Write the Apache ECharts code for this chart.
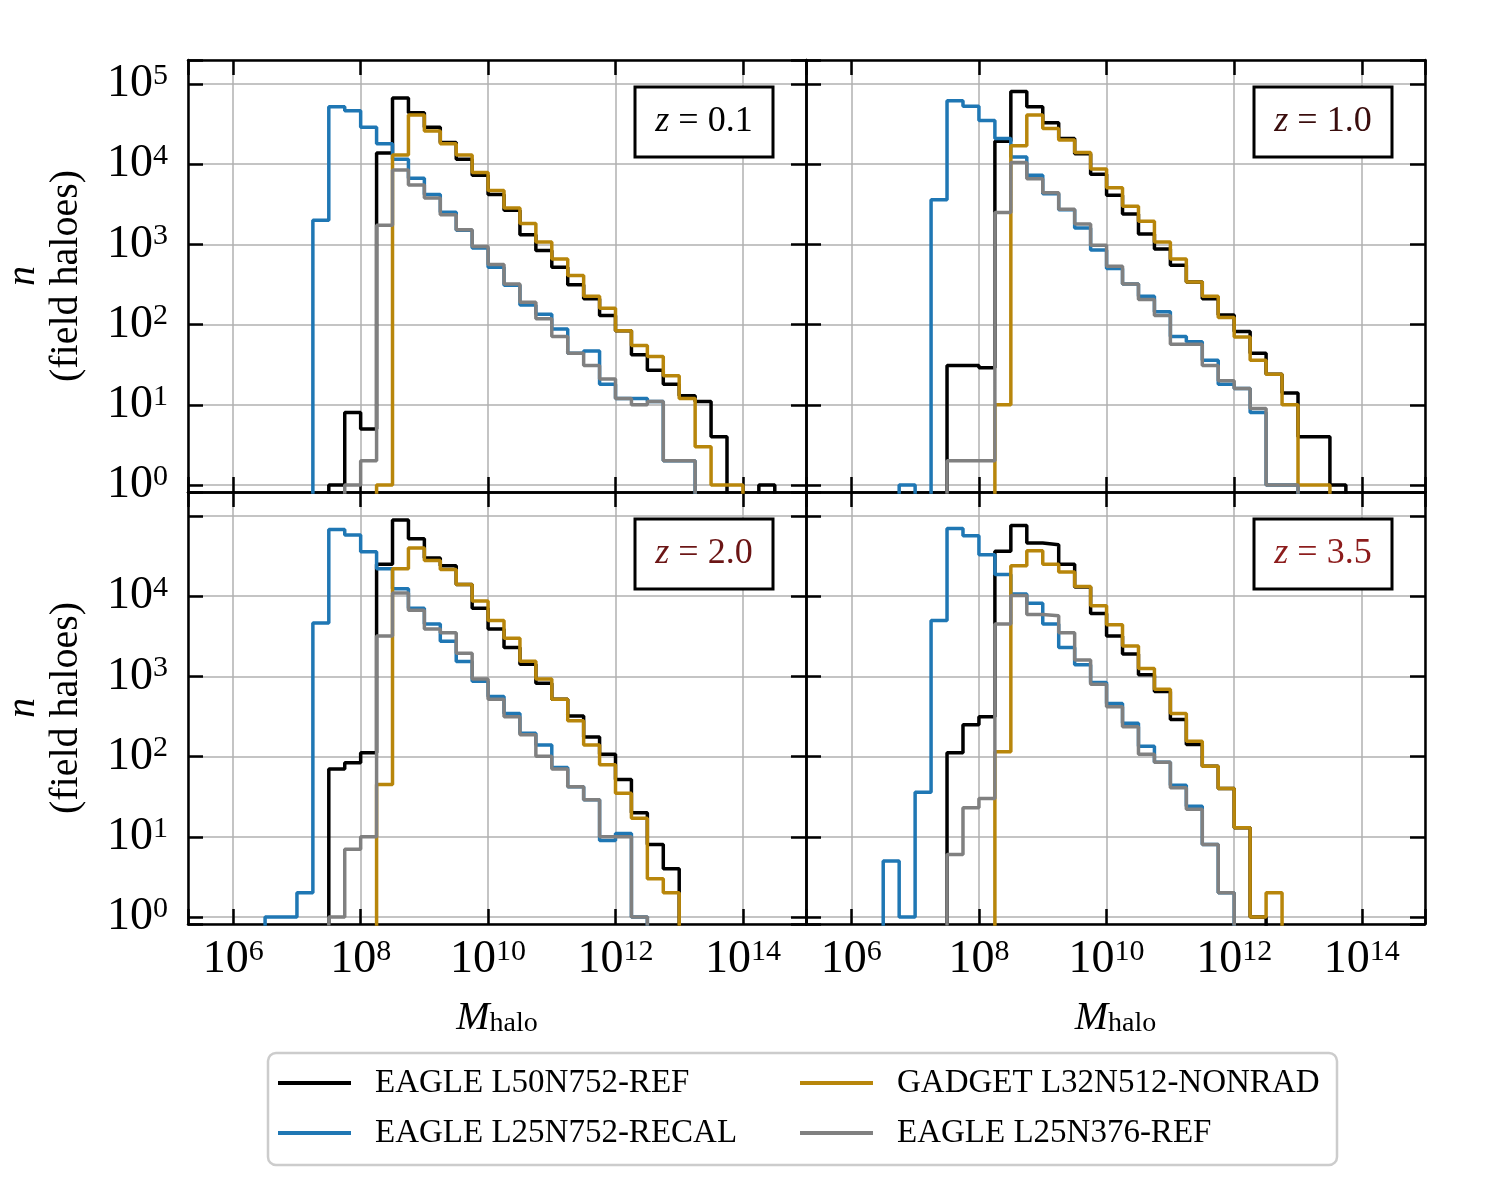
<!DOCTYPE html>
<html>
<head>
<meta charset="utf-8">
<script src="https://cdn.jsdelivr.net/npm/echarts@6/dist/echarts.min.js"></script>
<style>
html, body { margin: 0; padding: 0; background: #fff; }
#main { width: 1500px; height: 1200px; }
</style>
</head>
<body>
<div id="main"></div>
<script>
var myChart = echarts.init(document.getElementById('main'));

// simulations (legend order) and redshift labels
var simNames = ['EAGLE L50N752-REF', 'EAGLE L25N752-RECAL', 'GADGET L32N512-NONRAD', 'EAGLE L25N376-REF'];
var simColors = ['#000000', '#1f77b4', '#b8860b', '#808080'];
var redshiftLabels = ['0.1', '1.0', '2.0', '3.5'];
var redshiftColors = ['#000000', '#3a0d0d', '#6b1515', '#8c1c1c'];

// log10(M_halo) bin edges, 0.25 dex bins
var logMassEdges = [6.00, 6.25, 6.50, 6.75, 7.00, 7.25, 7.50, 7.75, 8.00, 8.25, 8.50, 8.75,
    9.00, 9.25, 9.50, 9.75, 10.00, 10.25, 10.50, 10.75, 11.00, 11.25, 11.50, 11.75,
    12.00, 12.25, 12.50, 12.75, 13.00, 13.25, 13.50, 13.75, 14.00, 14.25, 14.50];

// number of field haloes per bin
// z = 0.1
var ref50_z01  = [0,0,0,0,0,0,1,8,5,13800,67000,44000,29000,18700,11500,7300,4200,2660,1320,840,520,315,210,130,84,42,27,18,13,11,4,0,0,1];
var recal_z01  = [0,0,0,0,0,2000,52000,46500,29000,18000,11500,6700,4200,2520,1500,900,520,310,175,135,88,44,47,18,12,12,11,2,2,0,0,0,0,0];
var nonrad_z01 = [0,0,0,0,0,0,0,0,0,1,13000,41000,26000,18000,13000,7900,4700,2840,1820,1070,660,410,225,160,84,55,40,23,12,3,1,1,0,0];
var ref25_z01  = [0,0,0,0,0,0,0,1,2,1730,8500,5500,3800,2350,1520,945,560,320,190,118,71,44,31,21,12,10,11,2,2,0,0,0,0,0];
// z = 1.0
var ref50_z10  = [0,0,0,0,0,0,31,31,29,19400,81000,52000,33000,21000,13500,7500,4100,2400,1350,880,550,340,210,132,82,44,24,14,4,4,1,0,0,0];
var recal_z10  = [0,0,0,1,0,3600,62000,53000,35000,21000,12300,7300,4300,2700,1600,850,500,320,225,145,71,61,36,18,16,8,1,1,0,0,0,0,0,0];
var nonrad_z10 = [0,0,0,0,0,0,0,0,0,10,17000,41000,28000,20000,14000,8700,5100,3000,1950,1070,660,340,225,123,70,36,24,10,1,1,0,0,0,0];
var ref25_z10  = [0,0,0,0,0,0,2,2,2,2500,10500,6600,4400,2750,1800,980,535,320,205,130,57,57,31,20,16,9,1,1,0,0,0,0,0,0];
// z = 2.0
var ref50_z20  = [0,0,0,0,0,0,70,84,112,25000,89000,52000,30000,24000,14000,7100,3900,2300,1420,820,520,320,175,107,52,20,8,4,0,0,0,0,0,0];
var recal_z20  = [0,0,1,1,2,4650,68000,58000,36000,22000,12400,7100,4500,2750,1540,870,560,345,195,140,73,42,29,9,11,1,0,0,0,0,0,0,0,0];
var nonrad_z20 = [0,0,0,0,0,0,0,0,0,45,22000,40000,28000,21500,14000,8700,5000,3000,1550,930,520,280,140,79,35,17,3,2,0,0,0,0,0,0];
var ref25_z20  = [0,0,0,0,0,0,1,7,10,3200,11000,6700,3900,3500,1950,930,520,315,187,101,70,42,29,10,10,1,0,0,0,0,0,0,0,0];
// z = 3.5
var ref50_z35  = [0,0,0,0,0,0,112,250,315,36500,76000,46000,44000,25000,13000,6100,3200,1900,1050,650,290,142,76,40,13,1,0,0,0,0,0,0,0,0];
var recal_z35  = [0,0,5,1,36,5000,70000,57000,33000,18700,10700,8200,4500,2300,1400,840,460,260,135,85,44,24,8,2,0,0,0,0,0,0,0,0,0,0];
var nonrad_z35 = [0,0,0,0,0,0,0,0,0,115,24000,37000,25000,20000,13200,7600,4400,2400,1260,690,345,155,76,40,13,1,2,0,0,0,0,0,0,0];
var ref25_z35  = [0,0,0,0,0,0,6,23,30,4500,10200,5900,5700,3500,1600,800,420,235,107,85,41,22,8,2,0,0,0,0,0,0,0,0,0,0];

var panelCounts = [
    [ref50_z01, recal_z01, nonrad_z01, ref25_z01],
    [ref50_z10, recal_z10, nonrad_z10, ref25_z10],
    [ref50_z20, recal_z20, nonrad_z20, ref25_z20],
    [ref50_z35, recal_z35, nonrad_z35, ref25_z35]
];

var FONT = 'Liberation Serif';
var panels = [
    { left: 188, top: 60, width: 618, height: 432 },
    { left: 806, top: 60, width: 619, height: 432 },
    { left: 188, top: 492, width: 618, height: 432 },
    { left: 806, top: 492, width: 619, height: 432 }
];

// histogram outline in log space; empty bins go below the axis and are clipped
function stepData(counts) {
    var below = -3;
    var pts = [];
    for (var i = 0; i < counts.length; i++) {
        pts.push([logMassEdges[i], counts[i] > 0 ? Math.log10(counts[i]) : below]);
    }
    var last = counts[counts.length - 1];
    pts.push([logMassEdges[counts.length], last > 0 ? Math.log10(last) : below]);
    pts.push([logMassEdges[counts.length], below]);
    return pts;
}

function powLabel(v, hide) {
    if (Math.abs(v - Math.round(v)) > 1e-6) return '';
    var n = Math.round(v);
    if (hide && hide.indexOf(n) >= 0) return '';
    return '{b|10}{s|' + n + '}';
}
var powRich = {
    b: { fontSize: 46, fontFamily: FONT, color: '#000' },
    s: { fontSize: 30, fontFamily: FONT, color: '#000', verticalAlign: 'top' }
};

var grids = [], xAxes = [], yAxes = [], series = [], graphics = [];
var frameLine = { show: true, onZero: false, lineStyle: { color: '#000', width: 2.5 } };
var inTick = { show: true, inside: true, length: 15, lineStyle: { color: '#000', width: 2.5 } };
var gridLine = { show: true, lineStyle: { color: '#b0b0b0', width: 1.5 } };

panels.forEach(function (g, p) {
    var isBottom = p >= 2, isLeft = p % 2 === 0;
    grids.push({ left: g.left, top: g.top, width: g.width, height: g.height,
        show: false, containLabel: false, outerBoundsMode: 'none' });

    xAxes.push({
        gridIndex: p, type: 'value', position: 'bottom', min: 5.29, max: 14.99,
        axisLine: frameLine, axisTick: inTick, splitLine: gridLine,
        axisLabel: { show: isBottom, margin: 13, formatter: function (v) { return powLabel(v); }, rich: powRich },
        name: isBottom ? '{i|M}{u|halo}' : '', nameLocation: 'middle', nameGap: 74, nameMoveOverlap: false,
        nameTextStyle: { fontFamily: FONT, fontSize: 40, color: '#000',
            rich: { i: { fontFamily: FONT, fontSize: 40, fontStyle: 'italic', color: '#000' },
                    u: { fontFamily: FONT, fontSize: 28, color: '#000', verticalAlign: 'bottom' } } }
    });
    xAxes.push({
        gridIndex: p, type: 'value', position: 'top', min: 5.29, max: 14.99,
        axisLine: frameLine, axisTick: inTick, splitLine: { show: false }, axisLabel: { show: false }
    });

    yAxes.push({
        gridIndex: p, type: 'value', position: 'left', min: -0.0875, max: 5.3,
        axisLine: frameLine, axisTick: inTick, splitLine: gridLine,
        axisLabel: { show: isLeft, margin: 20, rich: powRich,
            formatter: function (v) { return powLabel(v, isBottom ? [5] : []); } },
        name: isLeft ? '{i|n}\n(field haloes)' : '', nameLocation: 'middle', nameGap: 100, nameRotate: 90,
        nameMoveOverlap: false,
        nameTextStyle: { fontFamily: FONT, fontSize: 40, lineHeight: 43, color: '#000',
            rich: { i: { fontFamily: FONT, fontSize: 40, lineHeight: 43, fontStyle: 'italic', color: '#000' } } }
    });
    yAxes.push({
        gridIndex: p, type: 'value', position: 'right', min: -0.0875, max: 5.3,
        axisLine: frameLine, axisTick: inTick, splitLine: { show: false }, axisLabel: { show: false }
    });

    panelCounts[p].forEach(function (counts, s) {
        series.push({
            name: simNames[s], type: 'line', xAxisIndex: 2 * p, yAxisIndex: 2 * p,
            step: 'end', data: stepData(counts), symbol: 'none', showSymbol: false, clip: true,
            color: simColors[s], itemStyle: { color: simColors[s] },
            lineStyle: { color: simColors[s], width: 3.5 },
            silent: true, z: 2 + s
        });
    });

    // redshift box in the upper right corner
    var bx = g.left + g.width - 33 - 138, by = g.top + 27;
    graphics.push({
        type: 'rect', z: 10,
        shape: { x: bx, y: by, width: 138, height: 70 },
        style: { fill: '#fff', stroke: '#000', lineWidth: 3 }
    });
    graphics.push({
        type: 'text', z: 11,
        style: { x: bx + 69, y: by + 35, text: '{i|z} = ' + redshiftLabels[p],
            align: 'center', verticalAlign: 'middle',
            font: '36px "Liberation Serif"', fill: redshiftColors[p],
            rich: { i: { fontStyle: 'italic', fontSize: 36, fontFamily: FONT, fill: redshiftColors[p] } } }
    });
});

// legend frame
graphics.push({
    type: 'rect', z: 0,
    shape: { x: 268, y: 1053, width: 1069, height: 112, r: 8 },
    style: { fill: '#fff', stroke: '#cccccc', lineWidth: 2.5 }
});

var legendText = { fontFamily: FONT, fontSize: 33, color: '#000', lineHeight: 40, padding: [0, 0, 0, 19] };

option = {
    backgroundColor: '#fff',
    animation: false,
    grid: grids,
    xAxis: xAxes,
    yAxis: yAxes,
    series: series,
    graphic: graphics,
    legend: [
        { data: [simNames[0], simNames[1]], orient: 'vertical', left: 278, top: 1063, padding: 0,
          icon: 'rect', itemWidth: 73, itemHeight: 4, itemGap: 10, selectedMode: false, textStyle: legendText },
        { data: [simNames[2], simNames[3]], orient: 'vertical', left: 800, top: 1063, padding: 0,
          icon: 'rect', itemWidth: 73, itemHeight: 4, itemGap: 10, selectedMode: false, textStyle: legendText }
    ]
};

myChart.setOption(option);
</script>
</body>
</html>
